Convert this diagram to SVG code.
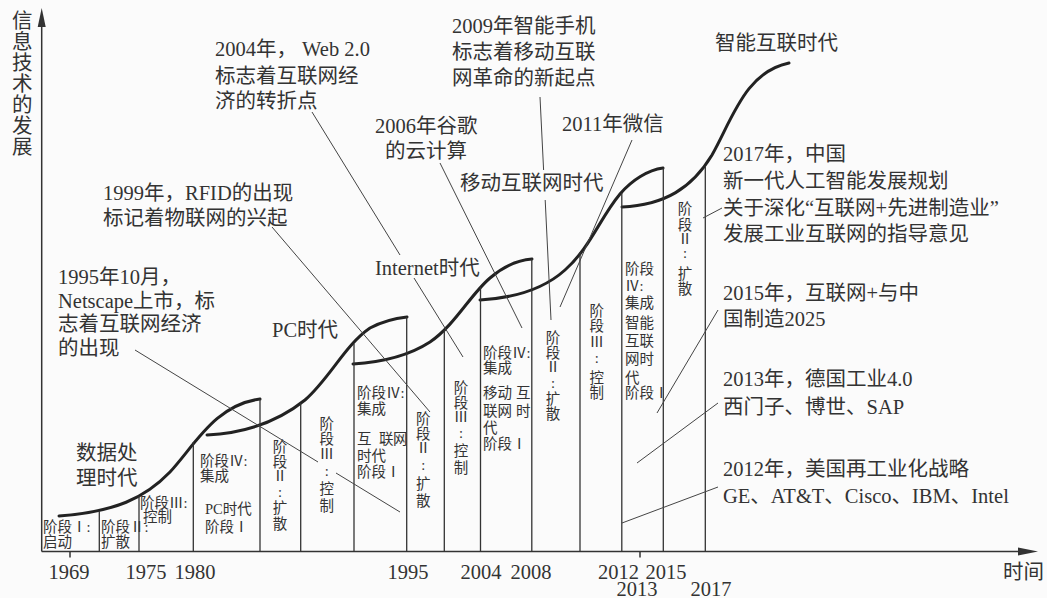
<svg xmlns="http://www.w3.org/2000/svg" width="1047" height="598" viewBox="0 0 1047 598">
<style>
.t{font-family:"Liberation Serif","Noto Sans CJK SC",serif;fill:#333}
.b{font-size:20.5px}
.s{font-size:14.5px}
.v{font-size:14.5px;text-anchor:middle}
.mid{text-anchor:middle}
.curve{fill:none;stroke:#222;stroke-width:3;stroke-linecap:round}
.vl{stroke:#333;stroke-width:1.3}
.ax{stroke:#333;stroke-width:1.5}
.ld{stroke:#444;stroke-width:1;fill:none}
</style>
<rect width="1047" height="598" fill="#fbfbfb"/>

<g id="axes">
  <line class="ax" x1="41.7" y1="551.5" x2="41.7" y2="20"/>
  <polygon points="41.7,8 37.7,27 45.7,27" fill="#333"/>
  <line class="ax" x1="41.7" y1="551.5" x2="1022" y2="551.5"/>
  <polygon points="1038,551.5 1018,547.5 1018,555.5" fill="#333"/>
  <line class="ax" x1="70" y1="551.5" x2="70" y2="557.5"/>
  <line class="ax" x1="640" y1="551.5" x2="640" y2="557.5"/>
  <text class="t b" x="12" y="0">
    <tspan x="12" y="28">信</tspan><tspan x="12" y="49">息</tspan><tspan x="12" y="70">技</tspan><tspan x="12" y="91">术</tspan><tspan x="12" y="112">的</tspan><tspan x="12" y="133">发</tspan><tspan x="12" y="154">展</tspan>
  </text>
  <text class="t b" x="1003" y="579">时间</text>
  <g class="t b mid">
    <text x="69" y="579">1969</text>
    <text x="146" y="579">1975</text>
    <text x="195" y="579">1980</text>
    <text x="408" y="579">1995</text>
    <text x="481" y="579">2004</text>
    <text x="531" y="579">2008</text>
    <text x="618.5" y="579">2012</text>
    <text x="666" y="579">2015</text>
    <text x="637" y="596">2013</text>
    <text x="711" y="596">2017</text>
  </g>
</g>

<g id="curves">
  <path class="curve" d="M59,516 C115,512 145,498 170,472 C195,445 215,405 260,399"/>
  <path class="curve" d="M207,435 C250,433 280,420 305,400 C330,378 345,345 370,328 C385,320 398,318 407,317"/>
  <path class="curve" d="M353,364 C385,362 410,355 430,342 C455,325 470,295 490,278 C505,265 520,260 532,259"/>
  <path class="curve" d="M480,300 C515,298 545,288 565,270 C590,248 600,218 620,194 C632,180 648,170 663,168"/>
  <path class="curve" d="M622,207 C665,205 692,188 712,155 C732,120 745,72 789,63"/>
</g>

<g id="dividers">
  <line class="vl" x1="99.3" y1="511" x2="99.3" y2="551.5"/>
  <line class="vl" x1="139" y1="496" x2="139" y2="551.5"/>
  <line class="vl" x1="193.3" y1="442" x2="193.3" y2="551.5"/>
  <line class="vl" x1="260" y1="399" x2="260" y2="551.5"/>
  <line class="vl" x1="300.7" y1="403" x2="300.7" y2="551.5"/>
  <line class="vl" x1="354" y1="344" x2="354" y2="551.5"/>
  <line class="vl" x1="406.7" y1="317" x2="406.7" y2="551.5"/>
  <line class="vl" x1="444.3" y1="330" x2="444.3" y2="551.5"/>
  <line class="vl" x1="480.5" y1="287" x2="480.5" y2="551.5"/>
  <line class="vl" x1="531.8" y1="259" x2="531.8" y2="551.5"/>
  <line class="vl" x1="580" y1="252" x2="580" y2="551.5"/>
  <line class="vl" x1="621.8" y1="193" x2="621.8" y2="551.5"/>
  <line class="vl" x1="663.3" y1="168" x2="663.3" y2="551.5"/>
  <line class="vl" x1="705.3" y1="167" x2="705.3" y2="551.5"/>
</g>

<g id="era-data">
  <text class="t b" x="76" y="460">数据处</text>
  <text class="t b" x="76" y="485">理时代</text>
</g>
<g id="s1-1"><text class="t s" x="43" y="532">阶段Ⅰ:</text><text class="t s" x="43" y="547">启动</text></g>
<g id="s1-2"><text class="t s" x="101" y="532">阶段Ⅱ:</text><text class="t s" x="101" y="547">扩散</text></g>
<g id="s1-3"><text class="t s" x="140" y="508">阶段Ⅲ:</text><text class="t s" x="143" y="522">控制</text></g>
<g id="s1-4"><text class="t s" x="200" y="466">阶段Ⅳ:</text><text class="t s" x="200" y="481">集成</text><text class="t s" x="205" y="514">PC时代</text><text class="t s" x="205" y="532">阶段Ⅰ</text></g>

<g id="era-pc"><text class="t b" x="272" y="337">PC时代</text></g>
<g id="s2-2"><text class="t v"><tspan x="280" y="452">阶</tspan><tspan x="280" y="466.5">段</tspan><tspan x="280" y="481">Ⅱ</tspan><tspan x="280" y="497">:</tspan><tspan x="280" y="512.5">扩</tspan><tspan x="280" y="528.5">散</tspan></text></g>
<g id="s2-3"><text class="t v"><tspan x="326.7" y="428.5">阶</tspan><tspan x="326.7" y="443.5">段</tspan><tspan x="326.7" y="458.5">Ⅲ</tspan><tspan x="326.7" y="475.5">:</tspan><tspan x="326.7" y="493.5">控</tspan><tspan x="326.7" y="510.5">制</tspan></text></g>
<g id="s2-4"><text class="t s" x="357" y="398">阶段Ⅳ:</text><text class="t s" x="357" y="414">集成</text><text class="t s" x="357" y="444">互<tspan x="379">联</tspan><tspan x="393">网</tspan></text><text class="t s" x="357" y="461">时代</text><text class="t s" x="357" y="477">阶段Ⅰ</text></g>

<g id="era-internet"><text class="t b" x="375" y="274.5">Internet时代</text></g>
<g id="s3-2"><text class="t v"><tspan x="423.3" y="423.5">阶</tspan><tspan x="423.3" y="438.5">段</tspan><tspan x="423.3" y="452.5">Ⅱ</tspan><tspan x="423.3" y="470">:</tspan><tspan x="423.3" y="488.5">扩</tspan><tspan x="423.3" y="505.5">散</tspan></text></g>
<g id="s3-3"><text class="t v"><tspan x="461" y="392.5">阶</tspan><tspan x="461" y="407.5">段</tspan><tspan x="461" y="421.5">Ⅲ</tspan><tspan x="461" y="438">:</tspan><tspan x="461" y="455.5">控</tspan><tspan x="461" y="472.5">制</tspan></text></g>
<g id="s3-4"><text class="t s" x="483" y="358">阶段Ⅳ:</text><text class="t s" x="483" y="373">集成</text><text class="t s" x="483" y="398">移动<tspan x="516">互</tspan></text><text class="t s" x="483" y="416">联网<tspan x="516">时</tspan></text><text class="t s" x="483" y="433">代</text><text class="t s" x="483" y="449">阶段Ⅰ</text></g>

<g id="era-mobile"><text class="t b" x="460" y="189.5">移动互联网时代</text></g>
<g id="s4-2"><text class="t v"><tspan x="553" y="342.5">阶</tspan><tspan x="553" y="357.5">段</tspan><tspan x="553" y="371.5">Ⅱ</tspan><tspan x="553" y="388">:</tspan><tspan x="553" y="403.5">扩</tspan><tspan x="553" y="418.5">散</tspan></text></g>
<g id="s4-3"><text class="t v"><tspan x="596.7" y="315.5">阶</tspan><tspan x="596.7" y="330.5">段</tspan><tspan x="596.7" y="346.5">Ⅲ</tspan><tspan x="596.7" y="363">:</tspan><tspan x="596.7" y="382.5">控</tspan><tspan x="596.7" y="397.5">制</tspan></text></g>
<g id="s4-4"><text class="t s" x="625" y="274">阶段</text><text class="t s" x="625" y="291">Ⅳ:</text><text class="t s" x="625" y="308">集成</text><text class="t s" x="625" y="328">智能</text><text class="t s" x="625" y="346">互联</text><text class="t s" x="625" y="364">网时</text><text class="t s" x="625" y="383">代</text><text class="t s" x="625" y="398">阶段Ⅰ</text></g>

<g id="era-smart"><text class="t b" x="715" y="49.5">智能互联时代</text></g>
<g id="s5-2"><text class="t v"><tspan x="685" y="213.5">阶</tspan><tspan x="685" y="229.5">段</tspan><tspan x="685" y="243.5">Ⅱ</tspan><tspan x="685" y="258">:</tspan><tspan x="685" y="278.5">扩</tspan><tspan x="685" y="293.5">散</tspan></text></g>

<g id="ann-1995"><text class="t b" x="58" y="284">1995年10月，</text><text class="t b" x="58" y="307.5">Netscape上市，标</text><text class="t b" x="58" y="331">志着互联网经济</text><text class="t b" x="58" y="354.5">的出现</text></g>
<g id="ann-1999"><text class="t b" x="103" y="199.5">1999年，RFID的出现</text><text class="t b" x="103" y="224.5">标记着物联网的兴起</text></g>
<g id="ann-2004"><text class="t b" x="215" y="56">2004年， Web 2.0</text><text class="t b" x="215" y="83">标志着互联网经</text><text class="t b" x="215" y="108">济的转折点</text></g>
<g id="ann-2006"><text class="t b" x="375" y="133">2006年谷歌</text><text class="t b" x="385" y="158">的云计算</text></g>
<g id="ann-2009"><text class="t b" x="452" y="33">2009年智能手机</text><text class="t b" x="452" y="58.5">标志着移动互联</text><text class="t b" x="452" y="84.5">网革命的新起点</text></g>
<g id="ann-2011"><text class="t b" x="562" y="131">2011年微信</text></g>
<g id="ann-2017"><text class="t b" x="723" y="161">2017年，中国</text><text class="t b" x="723" y="188">新一代人工智能发展规划</text><text class="t b" x="723" y="215">关于深化“互联网+先进制造业”</text><text class="t b" x="723" y="241">发展工业互联网的指导意见</text></g>
<g id="ann-2015"><text class="t b" x="723" y="299.5">2015年，互联网+与中</text><text class="t b" x="723" y="326">国制造2025</text></g>
<g id="ann-2013"><text class="t b" x="723" y="386">2013年，德国工业4.0</text><text class="t b" x="723" y="414">西门子、博世、SAP</text></g>
<g id="ann-2012"><text class="t b" x="723" y="476">2012年，美国再工业化战略</text><text class="t b" x="723" y="503">GE、AT&amp;T、Cisco、IBM、Intel</text></g>

<g id="connectors">
  <path class="ld" d="M135,350 L318,462 M336,473 L400,512"/>
  <path class="ld" d="M272,227 L430,412"/>
  <path class="ld" d="M312,112 L400,255 M414,278 L463,357"/>
  <path class="ld" d="M440,163 L522,328"/>
  <path class="ld" d="M540,97 L543.6,170 M545.2,200 L551,320"/>
  <path class="ld" d="M632,140 L560,307"/>
  <path class="ld" d="M722,208 L703,218"/>
  <path class="ld" d="M718,310 L657,413"/>
  <path class="ld" d="M718,403 L637,463"/>
  <path class="ld" d="M718,487 L622,523"/>
</g>
</svg>
